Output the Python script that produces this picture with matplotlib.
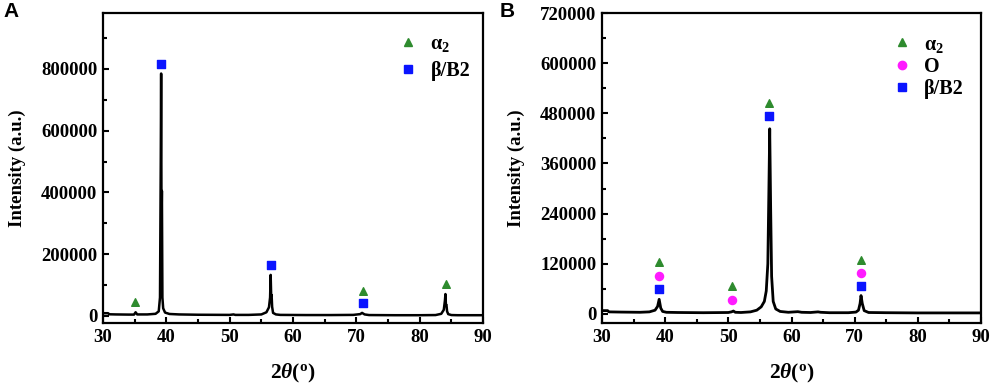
import matplotlib
matplotlib.use("Agg")
import matplotlib.pyplot as plt
from matplotlib.lines import Line2D
from matplotlib.ticker import MultipleLocator

plt.rcParams['font.family'] = ['Liberation Serif', 'DejaVu Serif']
plt.rcParams['font.weight'] = 'bold'
plt.rcParams['mathtext.fontset'] = 'custom'
plt.rcParams['mathtext.rm'] = 'Liberation Serif:bold'
plt.rcParams['mathtext.it'] = 'Liberation Serif:italic:bold'
plt.rcParams['mathtext.bf'] = 'Liberation Serif:bold'

# ---- Panel A pattern (2theta, intensity) ----
a_x = [30, 30.8, 31, 32, 34, 34.9, 35.15, 35.4, 37, 38.3, 38.8, 39.0, 39.12, 39.18, 39.24, 39.3, 39.38,
       39.5, 39.8, 40.5, 42, 45, 50, 50.6, 50.9, 53, 55, 55.8, 56.2, 56.38, 56.47, 56.55, 56.62, 56.7,
       56.85, 57.3, 58, 62, 66, 69.5, 70.6, 70.9, 71.3, 72, 76, 80, 82.5, 83.4, 83.8, 83.98, 84.06,
       84.14, 84.22, 84.32, 84.5, 85, 86, 90]
a_y = [9000, 9000, 5500, 5000, 4500, 4500, 12000, 5000, 5000, 7000, 15000, 60000, 500000, 785000, 300000, 405000, 60000,
       25000, 11000, 6500, 5000, 4000, 3500, 5000, 3500, 3500, 5000, 12000, 28000, 60000, 133000, 65000, 68000, 30000,
       10000, 5000, 3500, 3000, 3000, 3500, 6000, 10000, 5000, 3000, 2500, 2500, 3000, 7000, 20000, 50000, 71000,
       35000, 36000, 15000, 6000, 3000, 2500, 2500]

# ---- Panel B pattern ----
b_x = [30, 30.9, 31.1, 33, 36, 37.5, 38.4, 38.8, 39.05, 39.3, 39.6, 40.2, 42, 46, 50, 50.5, 50.8, 51.1, 52,
       53.5, 54.5, 55.2, 55.7, 56.0, 56.25, 56.42, 56.55, 56.7, 56.85, 57.1, 57.5, 58.2, 59.5, 60.5, 61.0,
       61.6, 63, 64.2, 64.6, 66, 69, 70.2, 70.6, 70.85, 71.0, 71.2, 71.5, 72.2, 75, 80, 85, 90]
b_y = [8000, 8000, 5000, 4500, 4000, 5000, 9000, 18000, 35000, 14000, 6000, 4000, 3500, 3000, 3500, 5000, 7000, 4000, 3500,
       5000, 9000, 17000, 30000, 55000, 120000, 300000, 443000, 250000, 90000, 30000, 12000, 6000, 4000, 5000, 5500,
       4000, 3500, 5000, 4000, 3000, 3000, 4500, 9000, 25000, 44000, 25000, 8000, 3500, 3000, 2500, 2500, 2500]

# ---- Phase markers ----
a_alpha2_x = [35.1, 71.0, 84.1]
a_alpha2_y = [44000, 81000, 104000]
a_beta_x = [39.2, 56.5, 71.0]
a_beta_y = [816000, 165000, 41000]

b_alpha2_x = [39.07, 50.6, 56.5, 71.0]
b_alpha2_y = [124500, 67000, 504700, 128600]
b_O_x = [39.07, 50.6, 71.0]
b_O_y = [91700, 33500, 97500]
b_beta_x = [39.07, 56.5, 71.0]
b_beta_y = [59000, 472600, 67800]

a_yticks = [0, 200000, 400000, 600000, 800000]
b_yticks = [0, 120000, 240000, 360000, 480000, 600000, 720000]
x_ticks = [30, 40, 50, 60, 70, 80, 90]

green = '#2e8b2e'
magenta = '#ff1aff'
blue = '#0a14ff'

fig = plt.figure(figsize=(9.96, 3.87), dpi=100)
axA = fig.add_axes([0.1034, 0.1654, 0.3816, 0.801])
axB = fig.add_axes([0.6044, 0.1654, 0.3806, 0.801])


def style(ax, ylim, yticks, yminor):
    ax.set_xlim(30, 90)
    ax.set_ylim(*ylim)
    ax.set_xticks(x_ticks)
    ax.set_yticks(yticks)
    ax.xaxis.set_minor_locator(MultipleLocator(5))
    ax.yaxis.set_minor_locator(MultipleLocator(yminor))
    ax.tick_params(which='both', direction='in', top=False, right=False, width=1.5,
                   labelsize=13.5)
    ax.tick_params(which='major', length=4.5, pad=4)
    ax.tick_params(which='minor', length=3)
    for lab in ax.get_xticklabels() + ax.get_yticklabels():
        lab.set_fontweight('bold')
    for s in ax.spines.values():
        s.set_linewidth(1.6)
    ax.set_ylabel('Intensity (a.u.)', fontsize=13.5, fontweight='bold', labelpad=11)
    ax.set_xlabel(r'2$\theta$(${}^{\mathrm{o}}$)', fontsize=15.5, fontweight='bold', labelpad=12)


style(axA, (-22700, 981000), a_yticks, 100000)
style(axB, (-21600, 720000), b_yticks, 60000)

axA.plot(a_x, a_y, color='black', lw=1.8)
axA.scatter(a_alpha2_x, a_alpha2_y, marker='^', s=30, color=green, zorder=3)
axA.scatter(a_beta_x, a_beta_y, marker='s', s=28, color=blue, zorder=3)

axB.plot(b_x, b_y, color='black', lw=2.0)
axB.scatter(b_alpha2_x, b_alpha2_y, marker='^', s=30, color=green, zorder=3)
axB.scatter(b_O_x, b_O_y, marker='o', s=34, color=magenta, zorder=3)
axB.scatter(b_beta_x, b_beta_y, marker='s', s=28, color=blue, zorder=3)

leg_prop = {'family': 'Liberation Serif', 'weight': 'bold', 'size': 14.5}
hA = [Line2D([], [], ls='none', marker='^', ms=6, color=green, label='α$_2$'),
      Line2D([], [], ls='none', marker='s', ms=5.5, color=blue, label='β/B2')]
axA.legend(handles=hA, loc='upper left', bbox_to_anchor=(0.745, 0.965), frameon=False,
           prop=leg_prop, handletextpad=0.5, labelspacing=0.35, handlelength=1.2, borderpad=0)

hB = [Line2D([], [], ls='none', marker='^', ms=6, color=green, label='α$_2$'),
      Line2D([], [], ls='none', marker='o', ms=6, color=magenta, label='O'),
      Line2D([], [], ls='none', marker='s', ms=5.5, color=blue, label='β/B2')]
axB.legend(handles=hB, loc='upper left', bbox_to_anchor=(0.732, 0.963), frameon=False,
           prop=leg_prop, handletextpad=0.5, labelspacing=0.12, handlelength=1.2, borderpad=0)

fig.text(0.004, 0.995, 'A', fontsize=15, fontweight='bold', family='Liberation Sans', va='top', ha='left')
fig.text(0.502, 0.995, 'B', fontsize=15, fontweight='bold', family='Liberation Sans', va='top', ha='left')

fig.savefig('out.png', dpi=100)
